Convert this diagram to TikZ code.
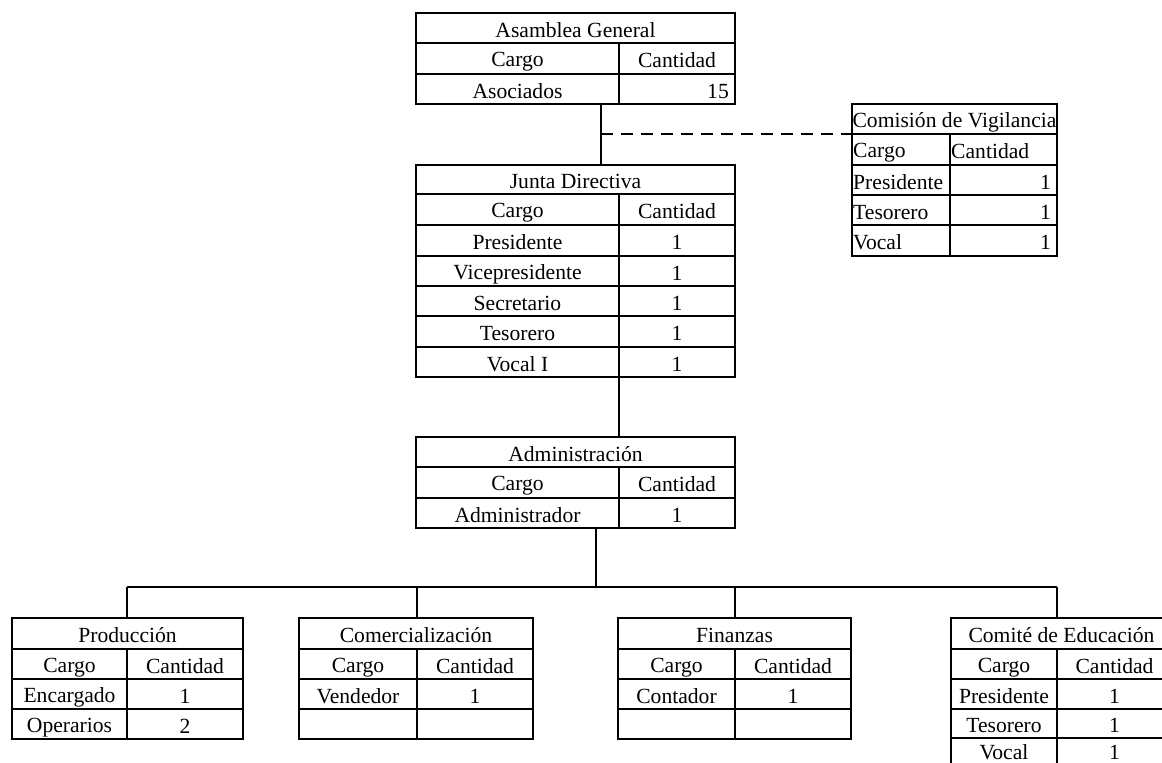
\documentclass[tikz,border=0pt]{standalone}
\usepackage{fontspec}
\setmainfont{Liberation Serif}
\tikzset{
  cellbox/.style={draw, line width=1pt, inner xsep=0.6pt, inner ysep=0pt, outer sep=0pt,
    font=\fontsize{10.8}{12}\selectfont},
  conn/.style={line width=1pt},
  dconn/.style={line width=1pt, dash pattern=on 6pt off 4pt},
}
% name, x1, y1, x2, y2, align (l/c/r), text   (coordinates in pixels)
\newcommand\mycell[7]{%
  \pgfmathsetmacro\mycw{(#4-#2)*0.5}%
  \pgfmathsetmacro\mych{(#5-#3)*0.5}%
  \pgfmathsetmacro\mytw{(#4-#2)*0.5-1.2}%
  \node[cellbox, minimum width=\mycw pt, minimum height=\mych pt] (#1)
    at ({(#2+#4)/2},{(#3+#5)/2}) {\makebox[\mytw pt][#6]{\rule[-1.4pt]{0pt}{12pt}#7}};}
\begin{document}
\begin{tikzpicture}[x=0.5pt,y=-0.5pt]
\useasboundingbox (0,0) rectangle (1162,763);
\clip (0,0) rectangle (1162,763);
\fill[white] (0,0) rectangle (1162,763);

% Asamblea General
\mycell{ag-t}{416}{13}{735}{43}{c}{Asamblea General}
\mycell{ag-h1}{416}{43}{619}{74}{c}{Cargo}
\mycell{ag-h2}{619}{43}{735}{74}{c}{Cantidad}
\mycell{ag-a1}{416}{74}{619}{104}{c}{Asociados}
\mycell{ag-a2}{619}{74}{735}{104}{r}{15\kern2.5pt}

% Comision de Vigilancia
\mycell{cv-t}{852}{104}{1057}{134}{c}{Comisión de Vigilancia}
\mycell{cv-h1}{852}{134}{950}{165}{l}{Cargo}
\mycell{cv-h2}{950}{134}{1057}{165}{l}{Cantidad}
\mycell{cv-p1}{852}{165}{950}{195}{l}{Presidente}
\mycell{cv-p2}{950}{165}{1057}{195}{r}{1\kern2.5pt}
\mycell{cv-s1}{852}{195}{950}{225}{l}{Tesorero}
\mycell{cv-s2}{950}{195}{1057}{225}{r}{1\kern2.5pt}
\mycell{cv-v1}{852}{225}{950}{256}{l}{Vocal}
\mycell{cv-v2}{950}{225}{1057}{256}{r}{1\kern2.5pt}

% Junta Directiva
\mycell{jd-t}{416}{165}{735}{194}{c}{Junta Directiva}
\mycell{jd-h1}{416}{194}{619}{225}{c}{Cargo}
\mycell{jd-h2}{619}{194}{735}{225}{c}{Cantidad}
\mycell{jd-p1}{416}{225}{619}{256}{c}{Presidente}
\mycell{jd-p2}{619}{225}{735}{256}{c}{1}
\mycell{jd-q1}{416}{256}{619}{286}{c}{Vicepresidente}
\mycell{jd-q2}{619}{256}{735}{286}{c}{1}
\mycell{jd-s1}{416}{286}{619}{316}{c}{Secretario}
\mycell{jd-s2}{619}{286}{735}{316}{c}{1}
\mycell{jd-r1}{416}{316}{619}{347}{c}{Tesorero}
\mycell{jd-r2}{619}{316}{735}{347}{c}{1}
\mycell{jd-v1}{416}{347}{619}{377}{c}{Vocal I}
\mycell{jd-v2}{619}{347}{735}{377}{c}{1}

% Administracion
\mycell{ad-t}{416}{437}{735}{467}{c}{Administración}
\mycell{ad-h1}{416}{467}{619}{498}{c}{Cargo}
\mycell{ad-h2}{619}{467}{735}{498}{c}{Cantidad}
\mycell{ad-a1}{416}{498}{619}{528}{c}{Administrador}
\mycell{ad-a2}{619}{498}{735}{528}{c}{1}

% Produccion
\mycell{pr-t}{12}{618}{243}{649}{c}{Producción}
\mycell{pr-h1}{12}{649}{127}{679}{c}{Cargo}
\mycell{pr-h2}{127}{649}{243}{679}{c}{Cantidad}
\mycell{pr-a1}{12}{679}{127}{709}{c}{Encargado}
\mycell{pr-a2}{127}{679}{243}{709}{c}{1}
\mycell{pr-b1}{12}{709}{127}{739}{c}{Operarios}
\mycell{pr-b2}{127}{709}{243}{739}{c}{2}

% Comercializacion
\mycell{co-t}{299}{618}{533}{649}{c}{Comercialización}
\mycell{co-h1}{299}{649}{417}{679}{c}{Cargo}
\mycell{co-h2}{417}{649}{533}{679}{c}{Cantidad}
\mycell{co-a1}{299}{679}{417}{709}{c}{Vendedor}
\mycell{co-a2}{417}{679}{533}{709}{c}{1}
\mycell{co-b1}{299}{709}{417}{739}{c}{}
\mycell{co-b2}{417}{709}{533}{739}{c}{}

% Finanzas
\mycell{fi-t}{618}{618}{851}{649}{c}{Finanzas}
\mycell{fi-h1}{618}{649}{735}{679}{c}{Cargo}
\mycell{fi-h2}{735}{649}{851}{679}{c}{Cantidad}
\mycell{fi-a1}{618}{679}{735}{709}{c}{Contador}
\mycell{fi-a2}{735}{679}{851}{709}{c}{1}
\mycell{fi-b1}{618}{709}{735}{739}{c}{}
\mycell{fi-b2}{735}{709}{851}{739}{c}{}

% Comite de Educacion
\mycell{ce-t}{951}{618}{1172}{649}{c}{Comité de Educación}
\mycell{ce-h1}{951}{649}{1057}{679}{c}{Cargo}
\mycell{ce-h2}{1057}{649}{1172}{679}{c}{Cantidad}
\mycell{ce-a1}{951}{679}{1057}{709}{c}{Presidente}
\mycell{ce-a2}{1057}{679}{1172}{709}{c}{1}
\mycell{ce-b1}{951}{709}{1057}{738}{c}{Tesorero}
\mycell{ce-b2}{1057}{709}{1172}{738}{c}{1}
\mycell{ce-c1}{951}{738}{1057}{768}{c}{\raisebox{1.2pt}{Vocal}}
\mycell{ce-c2}{1057}{738}{1172}{768}{c}{\raisebox{1.2pt}{1}}

% connectors
\coordinate (j1) at (601,104);
\draw[conn] (j1) -- (j1 |- jd-t.north);
\draw[dconn] (j1 |- cv-t.south) -- (cv-t.south west);
\draw[conn] (jd-v2.south west) -- (jd-v2.south west |- ad-t.north);
\coordinate (bus) at (596,587);
\draw[conn] (ad-a1.south -| bus) -- (bus);
\draw[conn] (pr-h2.north west |- bus) -- (ce-h2.north west |- bus);
\foreach \t in {pr,co,fi,ce}
  \draw[conn] (\t-h2.north west |- bus) -- (\t-h2.north west |- \t-t.north);
\end{tikzpicture}
\end{document}
